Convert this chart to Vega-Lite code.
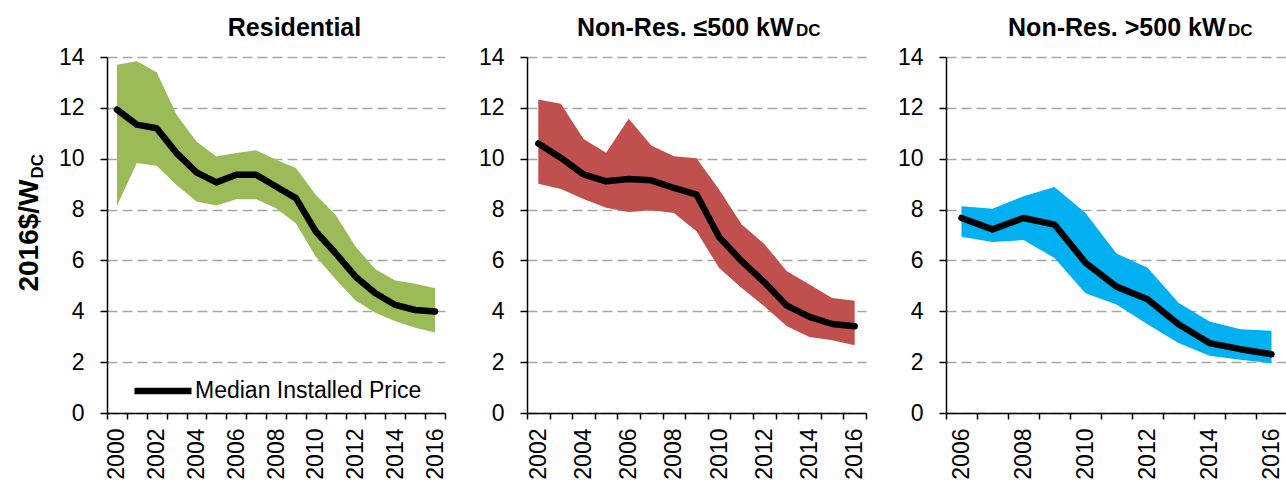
{
  "$schema": "https://vega.github.io/schema/vega-lite/v6.json",
  "padding": {"left": 15, "top": 15, "right": 0, "bottom": 0},
  "background": "white",
  "datasets": {
    "res": [
      {"year": 2000, "low": 8.15, "median": 11.93, "high": 13.7},
      {"year": 2001, "low": 9.83, "median": 11.34, "high": 13.83},
      {"year": 2002, "low": 9.72, "median": 11.2, "high": 13.4},
      {"year": 2003, "low": 8.97, "median": 10.22, "high": 11.73},
      {"year": 2004, "low": 8.32, "median": 9.46, "high": 10.68},
      {"year": 2005, "low": 8.16, "median": 9.07, "high": 10.09},
      {"year": 2006, "low": 8.41, "median": 9.37, "high": 10.22},
      {"year": 2007, "low": 8.41, "median": 9.37, "high": 10.33},
      {"year": 2008, "low": 8.05, "median": 8.91, "high": 9.96},
      {"year": 2009, "low": 7.46, "median": 8.45, "high": 9.63},
      {"year": 2010, "low": 6.15, "median": 7.14, "high": 8.58},
      {"year": 2011, "low": 5.26, "median": 6.28, "high": 7.79},
      {"year": 2012, "low": 4.42, "median": 5.36, "high": 6.55},
      {"year": 2013, "low": 3.94, "median": 4.71, "high": 5.65},
      {"year": 2014, "low": 3.61, "median": 4.25, "high": 5.21},
      {"year": 2015, "low": 3.35, "median": 4.05, "high": 5.08},
      {"year": 2016, "low": 3.17, "median": 3.99, "high": 4.91}
    ],
    "small": [
      {"year": 2002, "low": 9.02, "median": 10.6, "high": 12.33},
      {"year": 2003, "low": 8.81, "median": 10.03, "high": 12.16},
      {"year": 2004, "low": 8.42, "median": 9.38, "high": 10.78},
      {"year": 2005, "low": 8.07, "median": 9.11, "high": 10.23},
      {"year": 2006, "low": 7.9, "median": 9.2, "high": 11.57},
      {"year": 2007, "low": 7.97, "median": 9.15, "high": 10.52},
      {"year": 2008, "low": 7.87, "median": 8.85, "high": 10.1},
      {"year": 2009, "low": 7.15, "median": 8.59, "high": 10.02},
      {"year": 2010, "low": 5.7, "median": 6.92, "high": 8.79},
      {"year": 2011, "low": 4.92, "median": 5.97, "high": 7.41},
      {"year": 2012, "low": 4.2, "median": 5.14, "high": 6.65},
      {"year": 2013, "low": 3.41, "median": 4.22, "high": 5.57},
      {"year": 2014, "low": 2.99, "median": 3.78, "high": 5.05},
      {"year": 2015, "low": 2.86, "median": 3.5, "high": 4.52},
      {"year": 2016, "low": 2.66, "median": 3.41, "high": 4.41}
    ],
    "large": [
      {"year": 2006, "low": 6.93, "median": 7.67, "high": 8.13},
      {"year": 2007, "low": 6.72, "median": 7.22, "high": 8.03},
      {"year": 2008, "low": 6.8, "median": 7.67, "high": 8.52},
      {"year": 2009, "low": 6.1, "median": 7.41, "high": 8.89},
      {"year": 2010, "low": 4.71, "median": 5.91, "high": 7.87},
      {"year": 2011, "low": 4.27, "median": 4.97, "high": 6.27},
      {"year": 2012, "low": 3.49, "median": 4.47, "high": 5.71},
      {"year": 2013, "low": 2.75, "median": 3.49, "high": 4.34},
      {"year": 2014, "low": 2.25, "median": 2.75, "high": 3.6},
      {"year": 2015, "low": 2.09, "median": 2.51, "high": 3.29},
      {"year": 2016, "low": 1.96, "median": 2.31, "high": 3.23}
    ],
    "sub": [{"label": "DC"}]
  },
  "spacing": 30,
  "resolve": {"scale": {"stroke": "independent"}, "legend": {"stroke": "independent"}},
  "hconcat": [
    {
      "width": 338,
      "height": 356,
      "data": {"name": "res"},
      "resolve": {"axis": {"x": "independent"}},
      "layer": [
        {
          "mark": {"type": "area", "color": "#9BBB59", "opacity": 1},
          "encoding": {
            "x": {"field": "year", "type": "ordinal", "bandPosition": 0.5, "scale": {"type": "band", "paddingInner": 0, "paddingOuter": 0},
              "axis": {"title": null, "tickBand": "extent", "labelAngle": -90, "labelExpr": "datum.value % 2 == 0 ? datum.label : ''"}},
            "y": {"field": "low", "type": "quantitative", "scale": {"domain": [0, 14], "nice": false},
              "axis": {"title": "2016$/W", "values": [0, 2, 4, 6, 8, 10, 12, 14]}},
            "y2": {"field": "high"}
          }
        },
        {
          "mark": {"type": "line", "strokeWidth": 6.5, "strokeCap": "round", "strokeJoin": "round"},
          "encoding": {
            "x": {"field": "year", "type": "ordinal", "bandPosition": 0.5, "axis": null},
            "y": {"field": "median", "type": "quantitative"},
            "stroke": {"datum": "Median Installed Price", "type": "nominal", "scale": {"range": ["black"]},
              "legend": {"title": null, "orient": "none", "legendX": 24, "legendY": 302, "symbolType": "stroke", "symbolSize": 3249, "symbolStrokeWidth": 6.5, "labelFontSize": 23, "labelColor": "black", "labelOffset": 0, "labelLimit": 0, "padding": 0, "symbolOffset": 0}}
          }
        },
        {
          "data": {"name": "sub"},
          "mark": {"type": "text", "angle": 270, "align": "left", "baseline": "alphabetic", "fontSize": 17, "fontWeight": "bold", "dy": -74},
          "encoding": {
            "x": {"datum": 2000, "type": "ordinal",
              "axis": {"orient": "top", "title": "Residential", "labels": false, "ticks": false, "domain": false, "grid": false, "titleX": 187, "titleAlign": "center", "titleBaseline": "alphabetic", "titlePadding": 22, "titleFontSize": 25}},
            "y": {"datum": 9.22, "type": "quantitative"},
            "text": {"field": "label"}
          }
        }
      ]
    },
    {
      "width": 339,
      "height": 356,
      "data": {"name": "small"},
      "resolve": {"axis": {"x": "independent"}},
      "layer": [
        {
          "mark": {"type": "area", "color": "#C0504D", "opacity": 1},
          "encoding": {
            "x": {"field": "year", "type": "ordinal", "bandPosition": 0.5, "scale": {"type": "band", "paddingInner": 0, "paddingOuter": 0},
              "axis": {"title": null, "tickBand": "extent", "labelAngle": -90, "labelExpr": "datum.value % 2 == 0 ? datum.label : ''"}},
            "y": {"field": "low", "type": "quantitative", "scale": {"domain": [0, 14], "nice": false},
              "axis": {"title": null, "values": [0, 2, 4, 6, 8, 10, 12, 14]}},
            "y2": {"field": "high"}
          }
        },
        {
          "mark": {"type": "line", "color": "black", "strokeWidth": 6.5, "strokeCap": "round", "strokeJoin": "round"},
          "encoding": {
            "x": {"field": "year", "type": "ordinal", "bandPosition": 0.5, "axis": null},
            "y": {"field": "median", "type": "quantitative"}
          }
        },
        {
          "data": {"name": "sub"},
          "mark": {"type": "text", "align": "left", "baseline": "alphabetic", "fontSize": 17, "fontWeight": "bold", "dx": 9},
          "encoding": {
            "x": {"datum": 2013, "type": "ordinal",
              "axis": {"orient": "top", "title": "Non-Res. ≤500 kW", "labels": false, "ticks": false, "domain": false, "grid": false, "titleX": 266, "titleAlign": "right", "titleBaseline": "alphabetic", "titlePadding": 22, "titleFontSize": 25}},
            "y": {"datum": 14.84, "type": "quantitative"},
            "text": {"field": "label"}
          }
        }
      ]
    },
    {
      "width": 341,
      "height": 356,
      "data": {"name": "large"},
      "resolve": {"axis": {"x": "independent"}},
      "layer": [
        {
          "mark": {"type": "area", "color": "#00B0F0", "opacity": 1},
          "encoding": {
            "x": {"field": "year", "type": "ordinal", "bandPosition": 0.5, "scale": {"type": "band", "paddingInner": 0, "paddingOuter": 0},
              "axis": {"title": null, "tickBand": "extent", "labelAngle": -90, "labelExpr": "datum.value % 2 == 0 ? datum.label : ''"}},
            "y": {"field": "low", "type": "quantitative", "scale": {"domain": [0, 14], "nice": false},
              "axis": {"title": null, "values": [0, 2, 4, 6, 8, 10, 12, 14]}},
            "y2": {"field": "high"}
          }
        },
        {
          "mark": {"type": "line", "color": "black", "strokeWidth": 6.5, "strokeCap": "round", "strokeJoin": "round"},
          "encoding": {
            "x": {"field": "year", "type": "ordinal", "bandPosition": 0.5, "axis": null},
            "y": {"field": "median", "type": "quantitative"}
          }
        },
        {
          "data": {"name": "sub"},
          "mark": {"type": "text", "align": "left", "baseline": "alphabetic", "fontSize": 17, "fontWeight": "bold", "dx": -12.5},
          "encoding": {
            "x": {"datum": 2015, "type": "ordinal",
              "axis": {"orient": "top", "title": "Non-Res. >500 kW", "labels": false, "ticks": false, "domain": false, "grid": false, "titleX": 279, "titleAlign": "right", "titleBaseline": "alphabetic", "titlePadding": 22, "titleFontSize": 25}},
            "y": {"datum": 14.84, "type": "quantitative"},
            "text": {"field": "label"}
          }
        }
      ]
    }
  ],
  "config": {
    "font": "Liberation Sans",
    "view": {"stroke": null},
    "axis": {
      "domainColor": "black", "domainWidth": 1.5, "tickColor": "black", "tickWidth": 1.5,
      "labelColor": "black", "labelFontSize": 23, "labelFont": "Liberation Sans",
      "titleColor": "black", "titleFontWeight": "bold", "titleFont": "Liberation Sans"
    },
    "axisY": {"tickSize": 7, "labelPadding": 16, "titlePadding": 15, "titleFontSize": 28, "grid": true, "gridColor": "#A6A6A6", "gridDash": [10, 5], "gridWidth": 1.5},
    "axisX": {"tickSize": 6, "labelPadding": 9, "grid": false}
  }
}
